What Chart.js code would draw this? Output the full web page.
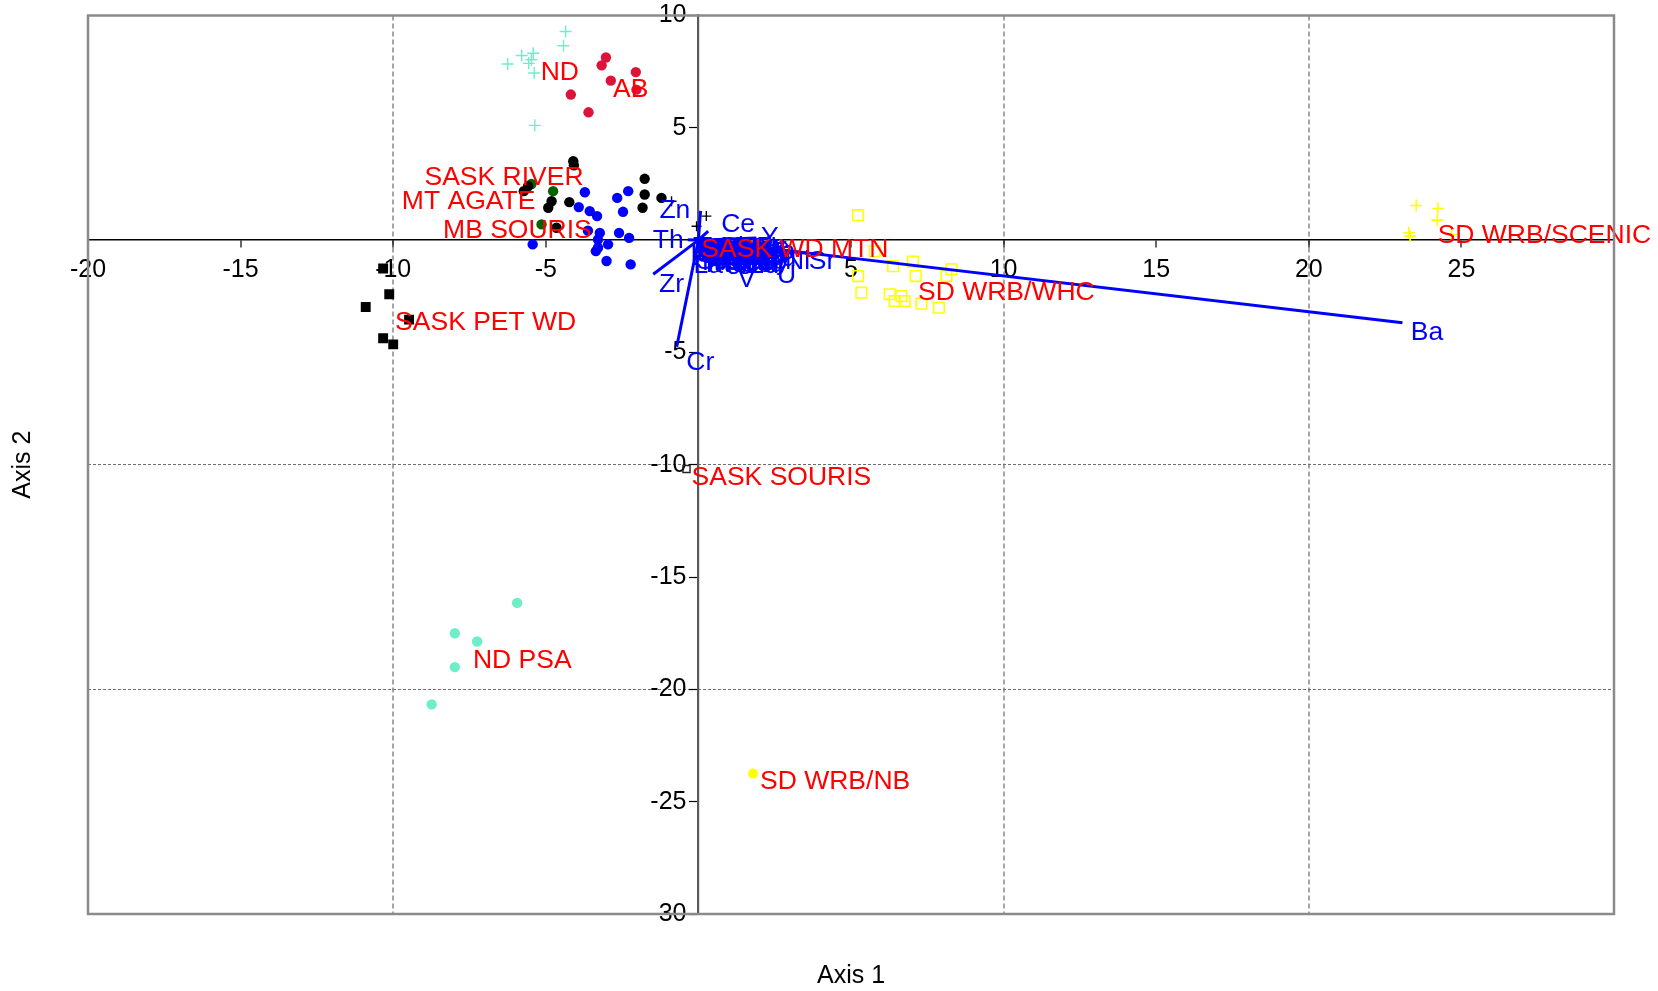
<!DOCTYPE html>
<html>
<head>
<meta charset="utf-8">
<title>Axis 1 / Axis 2 biplot</title>
<script src="https://cdn.jsdelivr.net/npm/chart.js@4.4.1/dist/chart.umd.min.js"></script>
<style>
  html, body { margin: 0; padding: 0; background: #fff; }
  #wrap { width: 1658px; height: 991px; position: relative; }
</style>
</head>
<body>
<div id="wrap"><canvas id="biplot"></canvas></div>
<script>
// sample scores [axis1, axis2], one list per sample group
const ndPts = [[-4.35, 9.29], [-4.42, 8.65], [-5.79, 8.22], [-5.41, 8.32], [-5.47, 8.03], [-5.56, 7.87], [-6.25, 7.84], [-5.38, 7.44], [-5.36, 5.11]];
const abPts = [[-3.03, 8.13], [-3.17, 7.78], [-2.05, 7.48], [-2.87, 7.10], [-2.03, 6.70], [-4.18, 6.48], [-3.60, 5.69]];
const saskRiverPts = [[-4.10, 3.51], [-4.08, 3.33], [-1.76, 2.73], [-1.76, 2.03], [-1.83, 1.44], [-1.21, 1.88], [-4.23, 1.69], [-4.81, 1.73], [-4.92, 1.44], [-4.65, 0.55], [-5.58, 2.40], [-5.72, 2.18]];
const mtAgatePts = [[-5.47, 2.50], [-4.76, 2.18], [-5.14, 0.70]];
const mbSourisPts = [[-3.72, 2.13], [-2.66, 1.88], [-2.30, 2.18], [-3.92, 1.47], [-3.56, 1.29], [-3.32, 1.07], [-2.47, 1.26], [-3.23, 0.32], [-2.60, 0.32], [-2.27, 0.10], [-2.96, -0.19], [-3.29, -0.34], [-3.36, -0.49], [-3.01, -0.93], [-2.22, -1.08], [-5.43, -0.19], [-3.29, 0.03], [-3.62, 0.42]];
const saskPetPts = [[-10.33, -1.26], [-10.13, -2.41], [-10.90, -2.98], [-9.48, -3.54], [-10.33, -4.37], [-10.00, -4.64]];
const saskMtnPts = [[-0.88, 1.73], [0.26, 1.07], [-0.06, 0.62]];
const saskSourisPts = [[-0.39, -10.19]];
const whcPts = [[5.23, 1.11], [5.23, -1.60], [5.34, -2.34], [6.27, -2.41], [6.43, -2.71], [6.65, -2.49], [6.76, -2.71], [7.31, -2.83], [7.88, -3.01], [6.38, -1.16], [7.03, -0.96], [7.12, -1.60], [8.13, -1.60], [8.29, -1.30], [5.78, -0.49]];
const scenicPts = [[23.52, 1.54], [24.23, 1.41], [24.21, 0.89], [23.28, 0.33], [23.32, 0.18], [24.67, 0.25]];
const nbPts = [[1.79, -23.75]];
const ndPsaPts = [[-5.94, -16.15], [-7.98, -17.50], [-7.25, -17.87], [-7.98, -19.01], [-8.74, -20.67]];

// group names and where they are written
const groupNames = ['ND', 'AB', 'SASK RIVER', 'MT AGATE', 'MB SOURIS', 'SASK PET WD', 'SASK WD MTN', 'SD WRB/WHC', 'SD WRB/SCENIC', 'SASK SOURIS', 'ND PSA', 'SD WRB/NB'];
const groupLabelX = [-4.54, -2.22, -6.37, -7.53, -5.93, -6.97, 3.16, 10.09, 27.72, 2.72, -5.77, 4.48];
const groupLabelY = [7.44, 6.70, 2.77, 1.73, 0.43, -3.67, -0.41, -2.34, 0.18, -10.59, -18.71, -24.12];

// variable loadings (arrow tips) and their label positions
const varNames = ['Ba', 'Cr', 'Zr', 'Zn', 'Th', 'Ce', 'Y', 'La', 'Eu', 'V', 'U', 'Ni', 'Sr',
  'Sc', 'Rb', 'Cs', 'Hf', 'Nb', 'Ta', 'Pb', 'Ga', 'Co', 'Cu', 'Pr', 'Nd', 'Sm', 'Gd', 'Dy', 'Er', 'Yb', 'Lu', 'Tb', 'Ho',
  'Tm', 'Mo', 'Sb', 'W', 'Li', 'Be', 'Sn', 'Ge', 'Tl', 'As', 'Cd', 'Bi', 'Se', 'Hg', 'Ag', 'Au', 'In', 'Te',
  'Ti', 'Mn', 'Fe', 'Mg', 'Ca', 'Na', 'K', 'Al', 'Si', 'P', 'S', 'Cl', 'Br', 'Ir', 'Pt', 'Pd', 'Re', 'Os', 'Ru'];
const varX = [23.07, -0.71, -1.48, 0.07, -0.35, 0.32, 1.90, 0.10, 1.70, 1.30, 2.60, 2.90, 3.60,
  0.50, 1.00, 1.50, 2.00, 2.40, 0.60, 1.10, 1.60, 2.10, 2.50, 0.50, 1.00, 1.40, 1.90, 2.30, 0.80, 1.30, 1.80, 2.20, 0.30,
  0.35, 0.75, 1.15, 1.55, 1.95, 2.35, 0.35, 0.75, 1.15, 1.55, 1.95, 2.35, 0.35, 0.75, 1.15, 1.55, 1.95, 2.35,
  0.20, 0.55, 0.95, 1.35, 1.75, 2.15, 2.55, 0.20, 0.55, 0.95, 1.35, 1.75, 2.15, 2.55, 0.55, 0.95, 1.35, 1.75, 2.15];
const varY = [-3.68, -4.75, -1.52, 1.30, 0.02, 0.40, 0.10, -0.75, -0.70, -1.25, -1.10, -0.60, -0.60,
  -0.30, -0.35, -0.30, -0.30, -0.35, -0.60, -0.60, -0.65, -0.60, -0.70, -0.90, -0.90, -0.90, -0.85, -0.90, -0.20, -0.20, -0.20, -0.20, -0.50,
  -0.25, -0.25, -0.25, -0.25, -0.25, -0.25, -0.55, -0.55, -0.55, -0.55, -0.55, -0.55, -0.85, -0.85, -0.85, -0.85, -0.85, -0.85,
  -0.40, -0.40, -0.40, -0.40, -0.40, -0.40, -0.40, -0.70, -0.70, -0.70, -0.70, -0.70, -0.70, -0.70, -1.00, -1.00, -1.00, -1.00, -1.00];
const varLabelX = [23.87, 0.06, -0.88, -0.77, -0.99, 1.30, 2.34, 0.32, 2.11, 1.58, 2.89, 3.25, 4.05,
  0.55, 1.10, 1.65, 2.20, 2.60, 0.60, 1.20, 1.75, 2.30, 2.65, 0.55, 1.05, 1.50, 2.00, 2.45, 0.90, 1.45, 1.95, 2.35, 0.30,
  0.45, 0.85, 1.25, 1.65, 2.05, 2.45, 0.45, 0.85, 1.25, 1.65, 2.05, 2.45, 0.45, 0.85, 1.25, 1.65, 2.05, 2.45,
  0.25, 0.65, 1.05, 1.45, 1.85, 2.25, 2.65, 0.25, 0.65, 1.05, 1.45, 1.85, 2.25, 2.65, 0.65, 1.05, 1.45, 1.85, 2.25];
const varLabelY = [-4.13, -5.45, -1.97, 1.29, -0.04, 0.70, 0.10, -1.14, -1.14, -1.75, -1.60, -0.98, -0.98,
  -0.45, -0.45, -0.45, -0.45, -0.50, -0.75, -0.75, -0.78, -0.78, -0.82, -1.00, -1.00, -1.00, -1.00, -1.00, -0.40, -0.40, -0.40, -0.40, -0.60,
  -0.35, -0.35, -0.35, -0.35, -0.35, -0.35, -0.65, -0.65, -0.65, -0.65, -0.65, -0.65, -0.95, -0.95, -0.95, -0.95, -0.95, -0.95,
  -0.50, -0.50, -0.50, -0.50, -0.50, -0.50, -0.50, -0.80, -0.80, -0.80, -0.80, -0.80, -0.80, -0.80, -1.10, -1.10, -1.10, -1.10, -1.10];

const xGridAt = [-10, 10, 20];
const yGridAt = [-10, -20];

const FONT = '"Liberation Sans", Arial, Helvetica, sans-serif';
Chart.defaults.font.family = FONT;

const toXY = pts => pts.map(p => ({ x: p[0], y: p[1] }));

function group(pts, style, color, radius, filled, width) {
  return {
    data: toXY(pts),
    pointStyle: style,
    pointRadius: radius,
    pointBackgroundColor: filled ? color : 'rgba(0,0,0,0)',
    pointBorderColor: color,
    pointBorderWidth: filled ? 0 : width,
    showLine: false,
    order: 2,
  };
}

const arrows = varNames.map((n, i) => ({
  type: 'line',
  data: [{ x: 0, y: 0 }, { x: varX[i], y: varY[i] }],
  borderColor: '#0000ff',
  borderWidth: 3,
  pointRadius: 0,
  showLine: true,
  order: 1,
}));

const datasets = [
  ...arrows,
  group(ndPts, 'cross', 'rgb(110,238,200)', 6, false, 1.4),
  group(abPts, 'circle', '#dc143c', 5.2, true),
  group(saskRiverPts, 'circle', '#000000', 5.2, true),
  group(mtAgatePts, 'circle', '#006400', 5.2, true),
  group(mbSourisPts, 'circle', '#0000ff', 5.2, true),
  group(saskPetPts, 'rect', '#000000', 7, true),
  group(saskMtnPts, 'cross', '#000000', 5, false, 1.4),
  group(saskSourisPts, 'rect', '#222222', 5, false, 1.4),
  group(whcPts, 'rect', '#ffff00', 7.5, false, 1.6),
  group(scenicPts, 'cross', '#ffff00', 6, false, 1.6),
  group(nbPts, 'circle', '#ffff00', 5, true),
  group(ndPsaPts, 'circle', 'rgb(110,238,200)', 5.2, true),
];

// text labels, frame and axis titles
const annotate = {
  id: 'annotate',
  afterDatasetsDraw(chart) {
    const { ctx, scales: { x, y } } = chart;
    ctx.save();
    ctx.textAlign = 'center';
    ctx.textBaseline = 'middle';
    ctx.font = '26.5px ' + FONT;
    ctx.fillStyle = '#0000ff';
    varNames.forEach((n, i) => {
      ctx.fillText(n, x.getPixelForValue(varLabelX[i]), y.getPixelForValue(varLabelY[i]));
    });
    ctx.fillStyle = '#ff0000';
    groupNames.forEach((n, i) => {
      ctx.fillText(n, x.getPixelForValue(groupLabelX[i]), y.getPixelForValue(groupLabelY[i]));
    });
    ctx.restore();
  },
  afterDraw(chart) {
    const { ctx, chartArea: a } = chart;
    ctx.save();
    ctx.strokeStyle = '#8a8a8a';
    ctx.lineWidth = 2.5;
    ctx.strokeRect(a.left, a.top, a.right - a.left, a.bottom - a.top);
    ctx.fillStyle = '#000';
    ctx.font = '25px ' + FONT;
    ctx.textAlign = 'center';
    ctx.textBaseline = 'middle';
    ctx.fillText('Axis 1', (a.left + a.right) / 2, a.bottom + 62);
    ctx.translate(23, (a.top + a.bottom) / 2);
    ctx.rotate(-Math.PI / 2);
    ctx.fillText('Axis 2', 0, 0);
    ctx.restore();
  }
};

new Chart(document.getElementById('biplot'), {
  type: 'scatter',
  data: { datasets },
  plugins: [annotate],
  options: {
    responsive: true,
    maintainAspectRatio: false,
    animation: false,
    events: [],
    layout: { padding: { left: 88, top: 14, right: 44, bottom: 77 } },
    plugins: { legend: { display: false }, tooltip: { enabled: false } },
    scales: {
      x: {
        type: 'linear',
        min: -20,
        max: 30,
        position: { y: 0 },
        ticks: {
          stepSize: 5,
          autoSkip: false,
          maxRotation: 0,
          color: '#000',
          padding: 8,
          font: { size: 25 },
          callback: v => (v === 0 || v === 30) ? '' : String(v),
        },
        grid: {
          color: c => xGridAt.includes(c.tick && c.tick.value) ? '#a6a6a6' : 'rgba(0,0,0,0)',
          lineWidth: 2,
          tickColor: '#000',
          tickLength: 7,
          tickWidth: 1.2,
          tickBorderDash: [],
        },
        border: { color: '#000', width: 1.5, dash: [5, 3] },
      },
      y: {
        type: 'linear',
        min: -30,
        max: 10,
        position: { x: 0 },
        ticks: {
          stepSize: 5,
          autoSkip: false,
          color: '#000',
          font: { size: 25, lineHeight: 1 },
          callback: v => v === 0 ? '' : v + ' \u2009',
        },
        grid: {
          color: c => yGridAt.includes(c.tick && c.tick.value) ? '#6e6e6e' : 'rgba(0,0,0,0)',
          lineWidth: 1,
          tickColor: '#000',
          tickLength: 8,
          tickWidth: 1.2,
          tickBorderDash: [],
        },
        border: { color: '#5a5a5a', width: 2.2, dash: [3, 2] },
      },
    },
  },
});
</script>
</body>
</html>
